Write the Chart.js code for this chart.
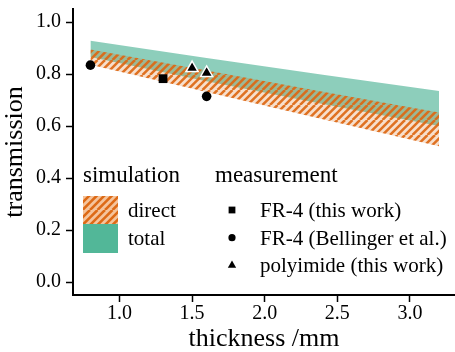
<!DOCTYPE html>
<html>
<head>
<meta charset="utf-8">
<script src="https://cdn.jsdelivr.net/npm/chart.js@4"></script>
<style>
  body { margin: 0; background: #fff; }
  canvas { display: block; }
</style>
</head>
<body>
<canvas id="myChart" width="455" height="352"></canvas>
<script>
// Simulated bands (thickness in mm)
const thickness = [0.8, 1.6, 2.4, 3.2];
const totalUpper = [0.928, 0.862, 0.797, 0.735];
const totalLower = [0.865, 0.772, 0.685, 0.600];
const directUpper = [0.894, 0.813, 0.732, 0.652];
const directLower = [0.836, 0.731, 0.626, 0.522];

// Measurements
const fr4OwnX = [1.3];
const fr4OwnY = [0.782];
const fr4BellingerX = [0.8, 1.6];
const fr4BellingerY = [0.834, 0.714];
const polyimideX = [1.5, 1.6];
const polyimideY = [0.823, 0.804];

// Axis ticks
const xTicks = [1.0, 1.5, 2.0, 2.5, 3.0];
const yTicks = [0.0, 0.2, 0.4, 0.6, 0.8, 1.0];

// Legend text
const simTitle = 'simulation';
const simLabels = ['direct', 'total'];
const measTitle = 'measurement';
const measLabels = ['FR-4 (this work)', 'FR-4 (Bellinger et al.)', 'polyimide (this work)'];

const FONT = '"Liberation Serif", "Times New Roman", serif';

function toPoints(xs, ys) {
    return xs.map((x, i) => ({ x: x, y: ys[i] }));
}

// Diagonal "/" hatch, two stripes per tile
function makeHatch(bg, fg, size, lw) {
    const tile = document.createElement('canvas');
    tile.width = tile.height = size;
    const g = tile.getContext('2d');
    g.fillStyle = bg;
    g.fillRect(0, 0, size, size);
    g.strokeStyle = fg;
    g.lineWidth = lw;
    g.beginPath();
    for (let o = -size; o <= size; o += size / 2) {
        g.moveTo(o, size);
        g.lineTo(o + size, 0);
    }
    g.stroke();
    return g.createPattern(tile, 'repeat');
}

const ctx = document.getElementById('myChart');
const plotHatch = makeHatch('rgba(217, 95, 2, 0.2)', 'rgba(221, 104, 20, 0.92)', 15, 2.5);
const legendHatch = makeHatch('rgb(245, 196, 156)', 'rgb(221, 106, 22)', 15, 2.6);

const band = {
    type: 'line',
    pointRadius: 0,
    borderWidth: 0,
    borderColor: 'transparent',
    tension: 0
};

// no extra room for overflowing tick labels, the axes sit at fixed places
function noPadding(axis) {
    axis.paddingLeft = 0;
    axis.paddingRight = 0;
    axis.paddingTop = 0;
    axis.paddingBottom = 0;
}

const twoColumnLegend = {
    id: 'twoColumnLegend',
    afterDraw(chart) {
        const c = chart.ctx;
        c.save();
        c.fillStyle = '#000';
        c.textBaseline = 'alphabetic';
        c.textAlign = 'left';

        c.font = '23px ' + FONT;
        c.fillText(simTitle, 83, 182);
        c.fillText(measTitle, 215, 182);

        // simulation patches
        c.fillStyle = legendHatch;
        c.fillRect(83, 196, 35, 28);
        c.fillStyle = '#52b798';
        c.fillRect(83, 224, 35, 29);

        c.fillStyle = '#000';
        c.font = '21px ' + FONT;
        simLabels.forEach((t, i) => c.fillText(t, 128, 217 + i * 27.7));

        // measurement markers
        const styles = [
            { pointStyle: 'rect', radius: 4.8 },
            { pointStyle: 'circle', radius: 3.6 },
            { pointStyle: 'triangle', radius: 4.8 }
        ];
        measLabels.forEach((t, i) => {
            const y = 217 + i * 27.7;
            c.fillStyle = '#000';
            c.strokeStyle = '#000';
            Chart.helpers.drawPoint(c, { ...styles[i], borderWidth: 0, rotation: 0 }, 232, y - 7);
            c.fillStyle = '#000';
            c.fillText(t, 260, y);
        });
        c.restore();
    }
};

new Chart(ctx, {
    type: 'line',
    data: {
        datasets: [
            { ...band, label: 'total lower', data: toPoints(thickness, totalLower), fill: false, order: 4 },
            { ...band, label: 'total', data: toPoints(thickness, totalUpper), fill: '-1',
              backgroundColor: 'rgba(27, 158, 119, 0.5)', order: 4 },
            { ...band, label: 'direct lower', data: toPoints(thickness, directLower), fill: false, order: 3 },
            { ...band, label: 'direct', data: toPoints(thickness, directUpper), fill: '-1',
              backgroundColor: plotHatch, order: 3 },
            { label: measLabels[0], data: toPoints(fr4OwnX, fr4OwnY), showLine: false,
              pointStyle: 'rect', pointRadius: 6.2, pointBackgroundColor: '#000',
              pointBorderWidth: 0, order: 1 },
            { label: measLabels[1], data: toPoints(fr4BellingerX, fr4BellingerY), showLine: false,
              pointStyle: 'circle', pointRadius: 4.8, pointBackgroundColor: '#000',
              pointBorderWidth: 0, order: 1 },
            { label: measLabels[2], data: toPoints(polyimideX, polyimideY), showLine: false,
              pointStyle: 'triangle', pointRadius: 7, pointBackgroundColor: '#000',
              pointBorderColor: '#fff', pointBorderWidth: 1.5, order: 1 }
        ]
    },
    options: {
        responsive: false,
        animation: false,
        devicePixelRatio: 1,
        layout: { autoPadding: false, padding: { top: 9, right: 0, left: 0, bottom: 0 } },
        plugins: {
            legend: { display: false },
            tooltip: { enabled: false }
        },
        scales: {
            x: {
                type: 'linear',
                min: 0.68,
                max: 3.31,
                afterBuildTicks: axis => { axis.ticks = xTicks.map(v => ({ value: v })); },
                afterFit: axis => { axis.height = 57; noPadding(axis); },
                grid: { drawOnChartArea: false, drawTicks: true, tickLength: 7, tickColor: '#000', tickWidth: 1.5 },
                border: { display: true, color: '#000', width: 2 },
                ticks: {
                    padding: 0,
                    color: '#000',
                    font: { family: FONT, size: 20 },
                    maxRotation: 0,
                    callback: v => v.toFixed(1)
                },
                title: {
                    display: true,
                    text: 'thickness /mm',
                    color: '#000',
                    font: { family: FONT, size: 26 },
                    padding: { top: 0, bottom: -3 }
                }
            },
            y: {
                min: -0.05,
                max: 1.05,
                afterBuildTicks: axis => { axis.ticks = yTicks.map(v => ({ value: v })); },
                afterFit: axis => { axis.width = 73; noPadding(axis); },
                grid: { drawOnChartArea: false, drawTicks: true, tickLength: 7, tickColor: '#000', tickWidth: 1.5 },
                border: { display: true, color: '#000', width: 2 },
                ticks: {
                    padding: 5,
                    color: '#000',
                    font: { family: FONT, size: 20 },
                    callback: v => v.toFixed(1)
                },
                title: {
                    display: true,
                    text: 'transmission',
                    color: '#000',
                    font: { family: FONT, size: 26 },
                    padding: 0
                }
            }
        }
    },
    plugins: [twoColumnLegend]
});
</script>
</body>
</html>
